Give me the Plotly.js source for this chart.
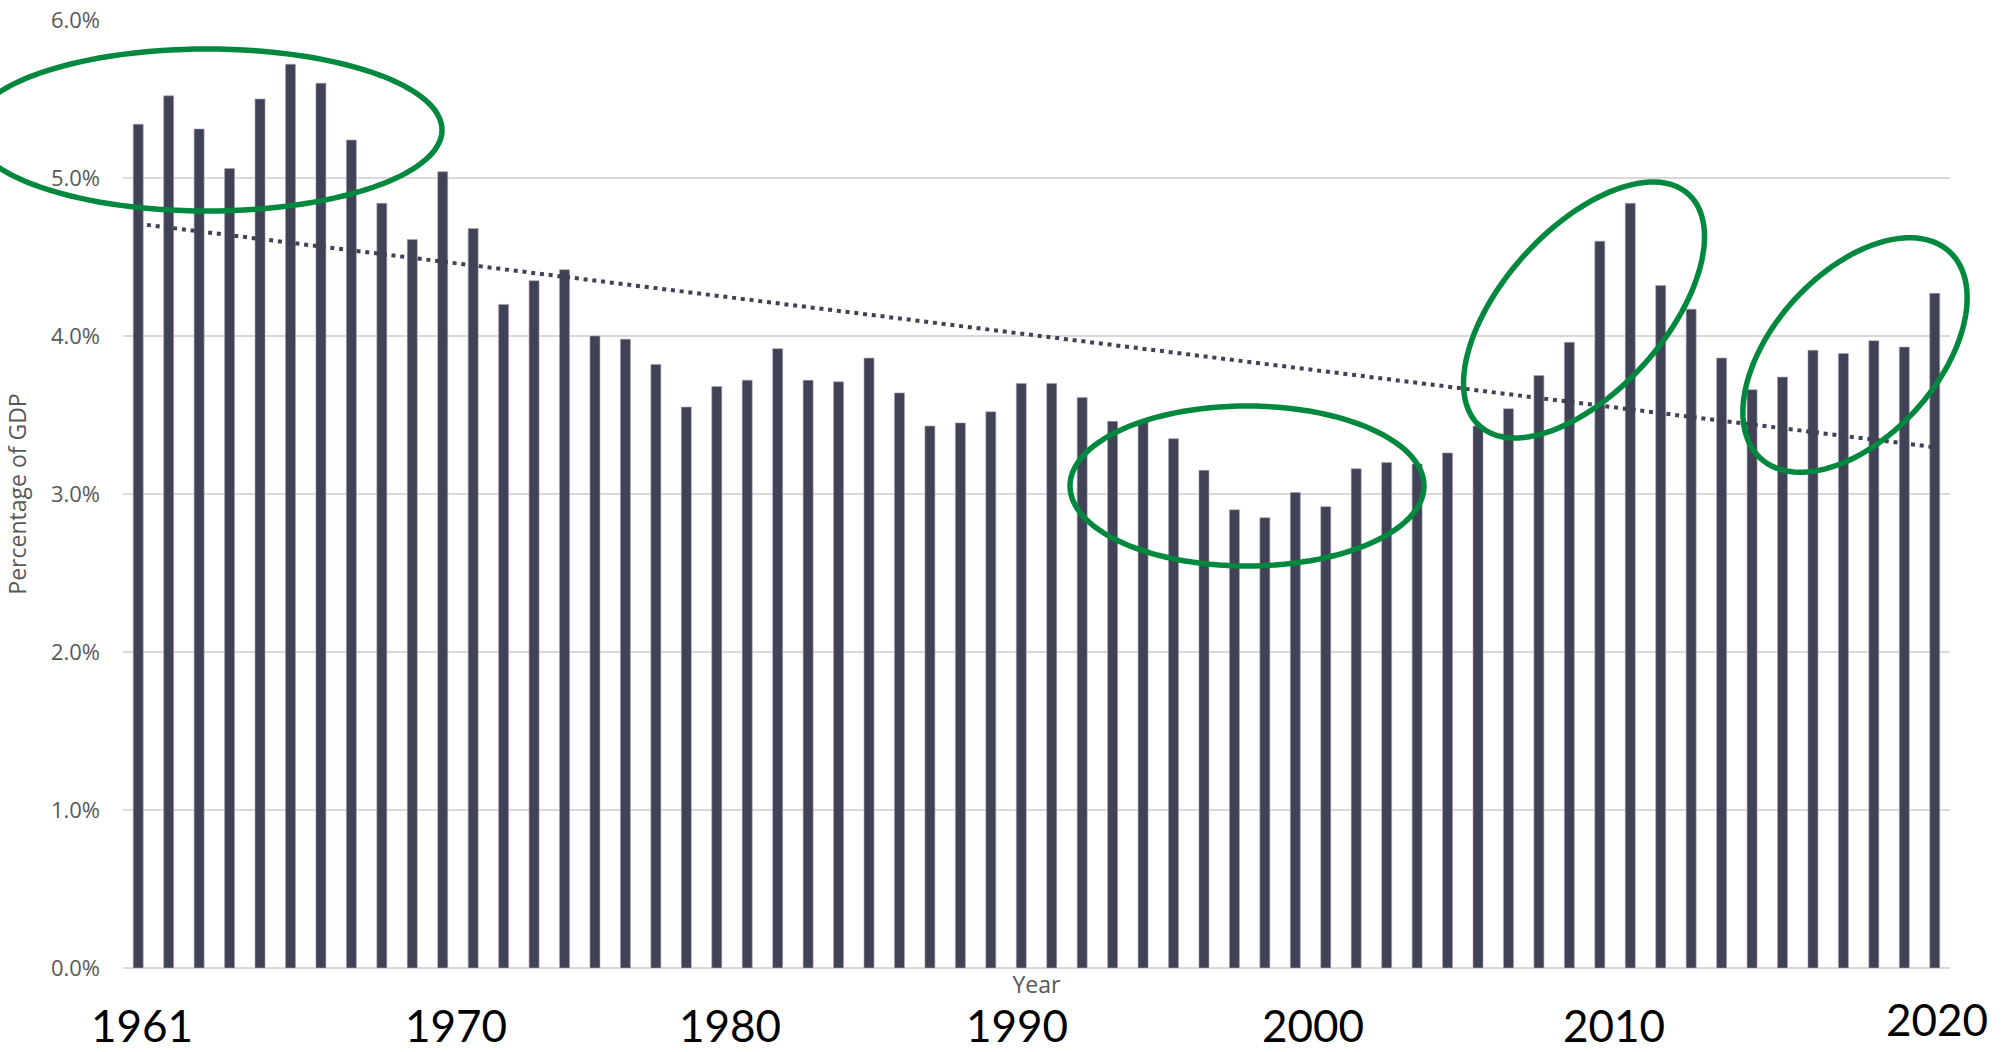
<!DOCTYPE html>
<html>
<head>
<meta charset="utf-8">
<script src="https://cdn.plot.ly/plotly-3.0.1.min.js"></script>
<style>
  html, body { margin: 0; padding: 0; background: #ffffff; }
  #chart { width: 2013px; height: 1052px; }
</style>
</head>
<body>
<div id="chart"></div>
<script>
// ---- data ----
const years = [
  '1961','1962','1963','1964','1965','1966','1967','1968','1969','1970',
  '1971','1972','1973','1974','1975','1976','1977','1978','1979','1980',
  '1981','1982','1983','1984','1985','1986','1987','1988','1989','1990',
  '1991','1992','1993','1994','1995','1996','1997','1998','1999','2000',
  '2001','2002','2003','2004','2005','2006','2007','2008','2009','2010',
  '2011','2012','2013','2014','2015','2016','2017','2018','2019','2020'
];
const pctGDP = [
  5.34, 5.52, 5.31, 5.06, 5.50, 5.72, 5.60, 5.24, 4.84, 4.61,
  5.04, 4.68, 4.20, 4.35, 4.42, 4.00, 3.98, 3.82, 3.55, 3.68,
  3.72, 3.92, 3.72, 3.71, 3.86, 3.64, 3.43, 3.45, 3.52, 3.70,
  3.70, 3.61, 3.46, 3.46, 3.35, 3.15, 2.90, 2.85, 3.01, 2.92,
  3.16, 3.20, 3.19, 3.26, 3.43, 3.54, 3.75, 3.96, 4.60, 4.84,
  4.32, 4.17, 3.86, 3.66, 3.74, 3.91, 3.89, 3.97, 3.93, 4.27
];
const yearLabels = ['1961', '1970', '1980', '1990', '2000', '2010', '2020'];
const yTickVals = [0, 1, 2, 3, 4, 5, 6];
const yTickText = ['0.0%', '1.0%', '2.0%', '3.0%', '4.0%', '5.0%', '6.0%'];

// ---- linear trendline (least squares over the data) ----
const n = pctGDP.length;
let sx = 0, sy = 0, sxx = 0, sxy = 0;
for (let i = 0; i < n; i++) { sx += i; sy += pctGDP[i]; sxx += i * i; sxy += i * pctGDP[i]; }
const slope = (n * sxy - sx * sy) / (n * sxx - sx * sx);
const intercept = (sy - slope * sx) / n;
const trend = pctGDP.map((_, i) => intercept + slope * i);

// ---- geometry helpers for the hand-drawn highlight ellipses ----
const W = 2013, H = 1052;
const M = { l: 123, r: 63, t: 20, b: 84 };
const PW = W - M.l - M.r, PH = H - M.t - M.b;
const toPX = px => (px - M.l) / PW;
const toPY = py => (H - M.b - py) / PH;
function ellipsePath(cx, cy, a, b, deg) {
  const th = deg * Math.PI / 180;
  let d = '';
  const N = 120;
  for (let k = 0; k <= N; k++) {
    const t = 2 * Math.PI * k / N;
    const px = cx + a * Math.cos(t) * Math.cos(th) + b * Math.sin(t) * Math.sin(th);
    const py = cy - a * Math.cos(t) * Math.sin(th) + b * Math.sin(t) * Math.cos(th);
    d += (k ? 'L' : 'M') + toPX(px).toFixed(5) + ',' + toPY(py).toFixed(5);
  }
  return d + 'Z';
}
const green = '#00893E';
const ellipseStyle = { type: 'path', xref: 'paper', yref: 'paper', layer: 'above',
  line: { color: green, width: 5.5 }, fillcolor: 'rgba(0,0,0,0)' };
const shapes = [
  Object.assign({ path: ellipsePath(207, 130, 235, 81, 0) }, ellipseStyle),
  Object.assign({ path: ellipsePath(1247, 486, 177, 80, 0) }, ellipseStyle),
  Object.assign({ path: ellipsePath(1584, 310, 156, 81, 48) }, ellipseStyle),
  Object.assign({ path: ellipsePath(1855, 355, 140, 82, 47.6) }, ellipseStyle)
];

// big year labels under the axis (offsets are layout only)
const labelShift = [4, 44, 13, -4, -13, -16, 2];
const labelY = [-0.0606, -0.0606, -0.0606, -0.0606, -0.0606, -0.0606, -0.0537];
const annotations = yearLabels.map((lab, k) => ({
  x: years.indexOf(lab), xref: 'x', y: labelY[k], yref: 'paper',
  xshift: labelShift[k], text: lab, showarrow: false,
  xanchor: 'center', yanchor: 'middle',
  font: { family: 'Lato, "Open Sans", sans-serif', size: 44, color: '#000000' }
}));

const traces = [
  {
    type: 'bar', x: years, y: pctGDP,
    marker: { color: '#414256', line: { color: '#a3a3b3', width: 0.6 } },
    hoverinfo: 'x+y', showlegend: false
  },
  {
    type: 'scatter', mode: 'lines', x: years, y: trend,
    line: { color: '#404155', width: 4, dash: '4px,4.8px' },
    hoverinfo: 'skip', showlegend: false
  }
];

const layout = {
  width: W, height: H,
  margin: M,
  paper_bgcolor: '#ffffff', plot_bgcolor: '#ffffff',
  bargap: 0.672,
  font: { family: '"Open Sans", sans-serif', color: '#595959' },
  xaxis: {
    type: 'category', range: [-0.5, n - 0.5],
    showticklabels: false, showgrid: false, zeroline: false, showline: false, ticks: '',
    title: { text: 'Year', standoff: 8, font: { family: '"Open Sans", sans-serif', size: 23, color: '#595959' } }
  },
  yaxis: {
    range: [0, 6], tickmode: 'array', tickvals: yTickVals, ticktext: yTickText,
    showgrid: true, gridcolor: '#d9d9d9', gridwidth: 1.6,
    zeroline: true, zerolinecolor: '#d9d9d9', zerolinewidth: 1.6,
    showline: false, ticks: '', ticklabelstandoff: 22,
    tickfont: { family: '"Open Sans", sans-serif', size: 22, color: '#595959' },
    title: { text: 'Percentage of GDP', standoff: 17, font: { family: '"Open Sans", sans-serif', size: 23, color: '#595959' } }
  },
  shapes: shapes,
  annotations: annotations
};

Plotly.newPlot('chart', traces, layout, { displayModeBar: false, staticPlot: true });
</script>
</body>
</html>
